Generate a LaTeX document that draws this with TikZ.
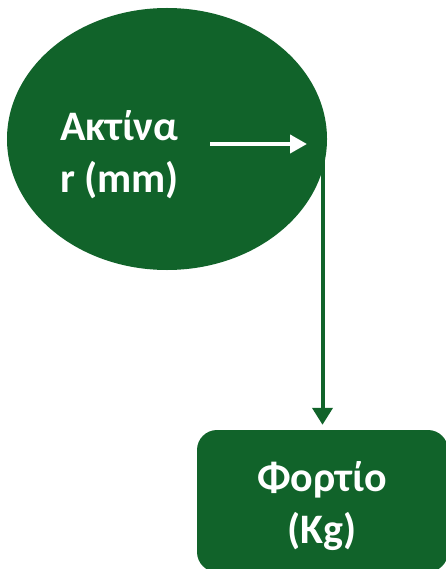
\documentclass[tikz,border=0pt]{standalone}
\usepackage{fontspec}
\setmainfont{Carlito}
\usetikzlibrary{shapes.geometric,arrows.meta}
\definecolor{dgreen}{RGB}{17,99,42}
\tikzset{
  lbl/.style={text=white, font=\bfseries\fontsize{42bp}{52bp}\selectfont, inner sep=0pt},
  garrow/.style={draw=dgreen, line width=4bp, -{Triangle[width=20bp,length=17bp]}},
  warrow/.style={draw=white, line width=4bp, -{Triangle[width=18bp,length=17bp]}},
}
\begin{document}
\begin{tikzpicture}[x=1bp,y=-1bp]
\useasboundingbox (0,0) rectangle (446,569);
\clip (0,0) rectangle (446,569);
\node[ellipse, fill=dgreen, minimum width=320bp, minimum height=262bp, inner sep=0pt] (ell) at (167,139) {};
\node[lbl, align=left, anchor=north west] (t1) at (60,110) {Ακτίνα\\r (mm)};
\coordinate (wa) at (210,144);
\coordinate (wb) at (307,144);
\draw[warrow] (wa) -- (wb);
\node[rectangle, rounded corners=20bp, fill=dgreen, minimum width=251bp, minimum height=142bp, inner sep=0pt] (box) at (322.5,501) {};
\node[lbl, align=center] (t2) at (322,506) {Φορτίο\\(Kg)};
\coordinate (s) at (322.5,140);
\draw[garrow, shorten >=5bp] (s) -- (s |- box.north);
\end{tikzpicture}
\end{document}
